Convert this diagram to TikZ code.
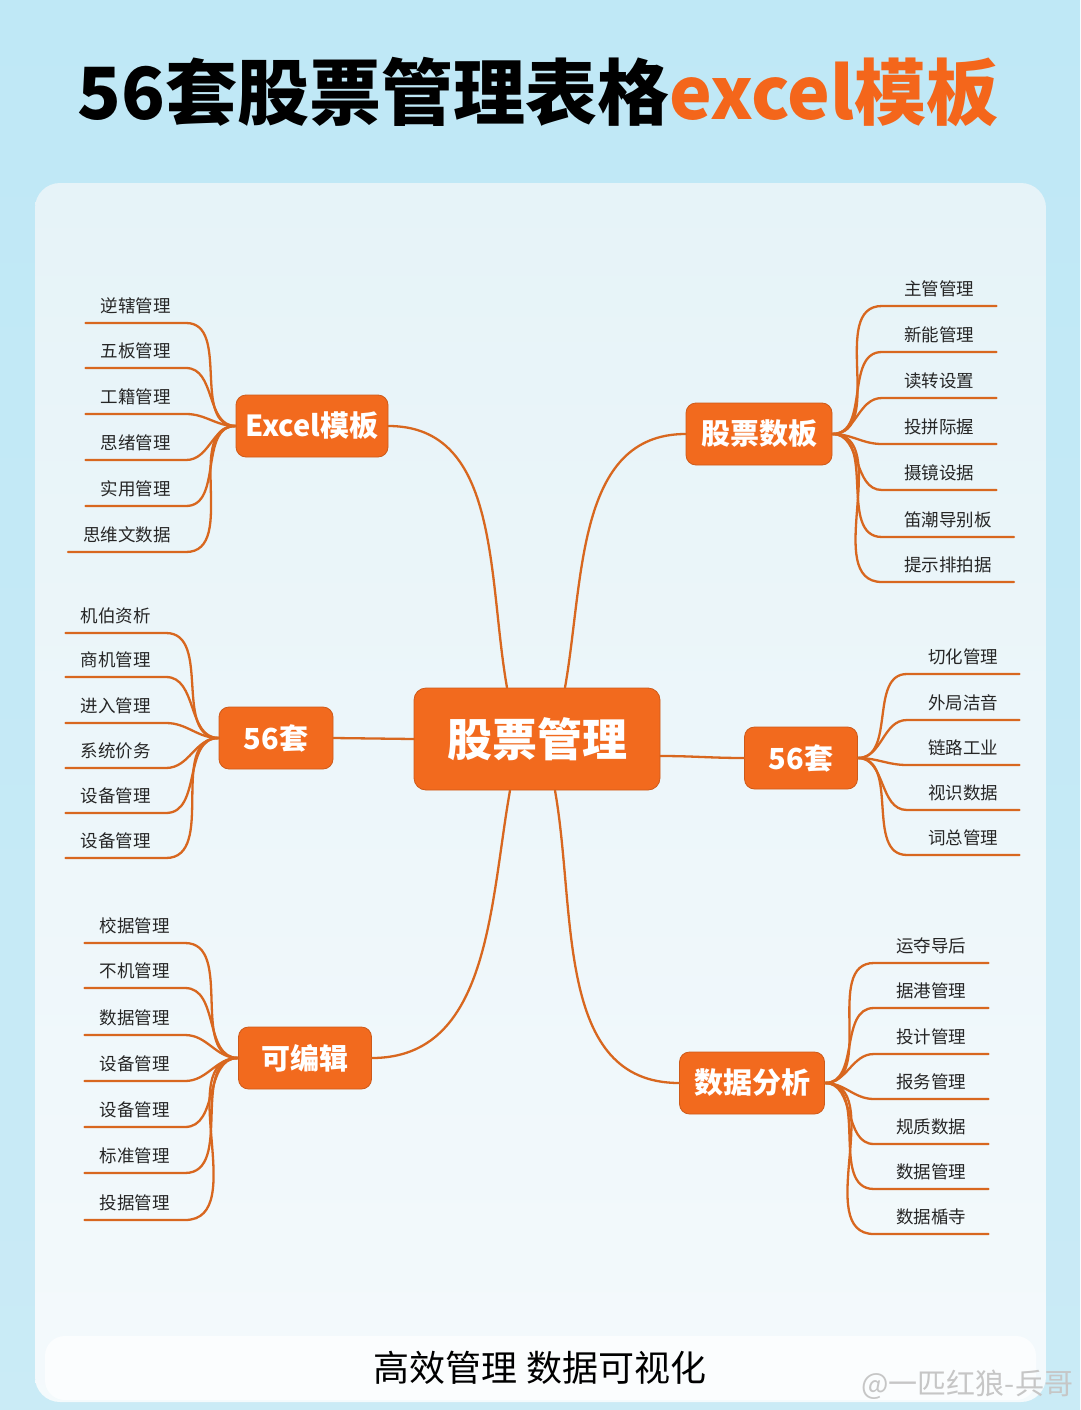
\documentclass[tikz,border=0pt]{standalone}
\usepackage{fontspec}
\setmainfont{Noto Sans CJK SC}
\usetikzlibrary{positioning, calc}

\definecolor{skyblue}{HTML}{BFE8F6}
\definecolor{skyedge}{HTML}{B3E2F2}
\definecolor{panelblue}{HTML}{E6F3F8}
\definecolor{hubor}{HTML}{F26A1E}
\definecolor{linkor}{HTML}{D8671F}
\definecolor{leafgray}{HTML}{262626}
\definecolor{titleor}{HTML}{F4661B}

\begin{document}
\begin{tikzpicture}[
    x=1pt, y=-1pt,
    hub/.style={draw=hubor!85!black, line width=0.8pt, fill=hubor,
                rounded corners=10pt, text=white, inner xsep=2pt,
                font=\bfseries\fontsize{29}{29}\selectfont,
                minimum height=62pt},
    link/.style={draw=linkor, line width=2.3pt, line cap=round},
    leaf/.style={inner ysep=7pt, text height=13pt, text depth=3pt,
                 text=leafgray, font=\fontsize{17.5}{18}\selectfont},
    leafL/.style={leaf, anchor=south east, inner xsep=15pt},
    leafR/.style={leaf, anchor=south west, inner xsep=22pt},
  ]
  \useasboundingbox (0,0) rectangle (1080,1410);
  % backdrop and panel
  \shade[top color=skyblue, bottom color=skyedge!70!white] (0,0) rectangle (1080,1410);
  \shade[top color=panelblue, bottom color=panelblue!45!white, rounded corners=25pt]
    (35,183) rectangle (1046,1402);
  \fill[white, opacity=0.7, rounded corners=20pt] (45,1336) rectangle (1036,1400);

  % title
  \node[font=\bfseries\fontsize{72}{72}\selectfont] (title) at (538,92)
    {56套股票管理表格\textcolor{titleor}{excel模板}};

  % hubs
  \node[hub, minimum width=246pt, minimum height=102pt, rounded corners=12pt,
        font=\bfseries\fontsize{45}{45}\selectfont] (root) at (537,739) {股票管理};
  \node[hub, minimum width=152pt] (excel) at (312,426) {Excel模板};
  \node[hub, minimum width=146pt] (stock) at (759,434) {股票数板};
  \node[hub, minimum width=114pt] (setL)  at (276,738) {56套};
  \node[hub, minimum width=113pt] (setR)  at (801,758) {56套};
  \node[hub, minimum width=133pt] (edit)  at (305,1058) {可编辑};
  \node[hub, minimum width=145pt] (ana)   at (752,1083) {数据分析};

  % main branches
  \draw[link] ([xshift=-30pt]root.north) to[out=100, in=0]  (excel.east);
  \draw[link] ([xshift=28pt]root.north)  to[out=80,  in=180] (stock.west);
  \draw[link] (root.west) -- (setL.east);
  \draw[link] ([yshift=-17pt]root.east) to[out=0, in=180] (setR.west);
  \draw[link] ([xshift=-27pt]root.south) to[out=260, in=0]  (edit.east);
  \draw[link] ([xshift=18pt]root.south)  to[out=280, in=180] (ana.west);

  % Excel模板 leaves
  \foreach \t/\y [count=\i] in {逆辖管理/323, 五板管理/368, 工籍管理/414,
                                 思绪管理/460, 实用管理/506, 思维文数据/552} {
    \node[leafL] (ex\i) at (186,\y) {\t};
    \draw[link] (ex\i.south west) -- (ex\i.south east) to[out=0, in=180] (excel.west);
  }
  % 股票数板 leaves
  \foreach \t/\y [count=\i] in {主管管理/306, 新能管理/352, 读转设置/398, 投拼际握/444,
                                 摄镜设据/490, 笛潮导别板/537, 提示排拍据/582} {
    \node[leafR] (st\i) at (882,\y) {\t};
    \draw[link] (stock.east) to[out=0, in=180] (st\i.south west) -- (st\i.south east);
  }
  % left 56套 leaves
  \foreach \t/\y [count=\i] in {机伯资析/633, 商机管理/677, 进入管理/723,
                                 系统价务/768, 设备管理/813, 设备管理/858} {
    \node[leafL] (sl\i) at (166,\y) {\t};
    \draw[link] (sl\i.south west) -- (sl\i.south east) to[out=0, in=180] (setL.west);
  }
  % right 56套 leaves
  \foreach \t/\y [count=\i] in {切化管理/674, 外局洁音/720, 链路工业/765,
                                 视识数据/810, 词总管理/855} {
    \node[leafR, inner xsep=21pt] (sr\i) at (907,\y) {\t};
    \draw[link] (setR.east) to[out=0, in=180] (sr\i.south west) -- (sr\i.south east);
  }
  % 可编辑 leaves
  \foreach \t/\y [count=\i] in {校据管理/943, 不机管理/988, 数据管理/1035, 设备管理/1081,
                                 设备管理/1127, 标准管理/1173, 投据管理/1220} {
    \node[leafL] (ed\i) at (185,\y) {\t};
    \draw[link] (ed\i.south west) -- (ed\i.south east) to[out=0, in=180] (edit.west);
  }
  % 数据分析 leaves
  \foreach \t/\y [count=\i] in {运夺导后/963, 据港管理/1008, 投计管理/1054, 报务管理/1099,
                                 规质数据/1144, 数据管理/1189, 数据楯寺/1234} {
    \node[leafR] (an\i) at (874,\y) {\t};
    \draw[link] (ana.east) to[out=0, in=180] (an\i.south west) -- (an\i.south east);
  }

  % footer
  \node[font=\fontsize{36}{36}\selectfont] (slogan) at (540,1368) {高效管理 数据可视化};
  \node[anchor=west, text=gray!45, font=\fontsize{29}{29}\selectfont] (mark)
    at (858,1385) {@一匹红狼-兵哥};
\end{tikzpicture}
\end{document}
